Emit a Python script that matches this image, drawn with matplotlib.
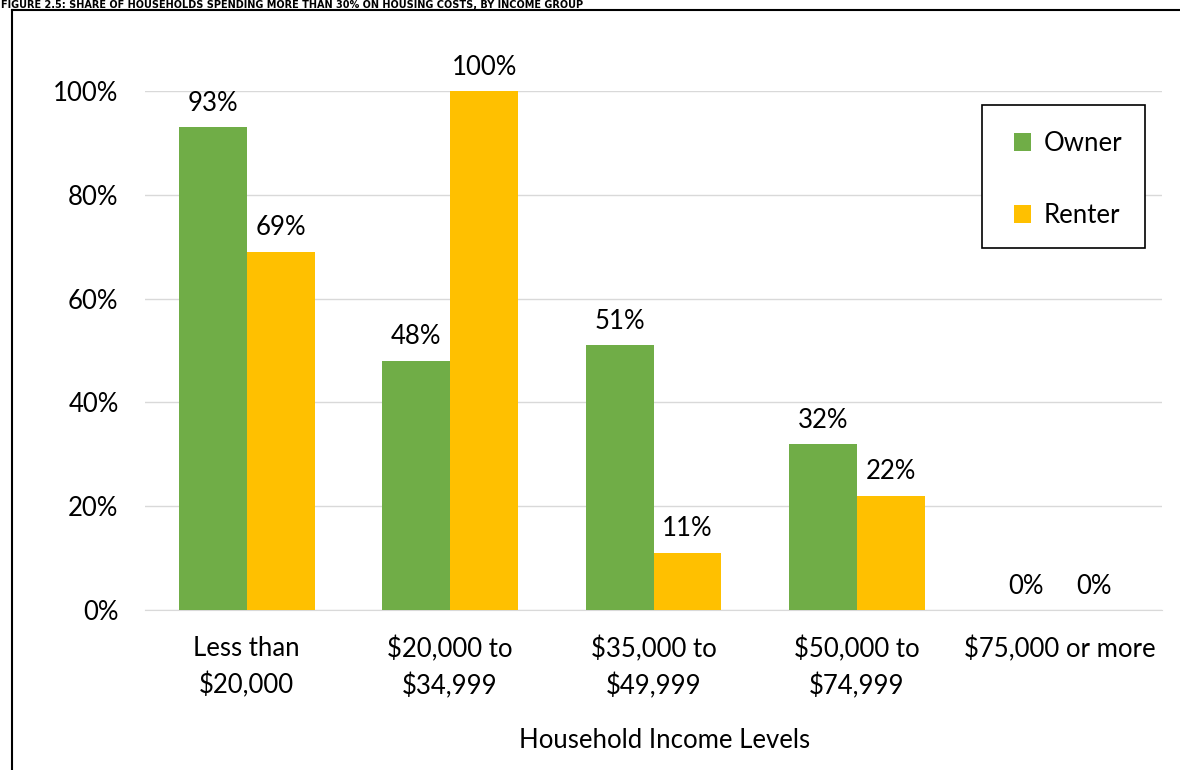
import matplotlib
matplotlib.use("Agg")
import matplotlib.pyplot as plt
from matplotlib.lines import Line2D
from matplotlib.patches import Rectangle
import numpy as np

categories = ["Less than\n$20,000", "$20,000 to\n$34,999", "$35,000 to\n$49,999",
              "$50,000 to\n$74,999", "$75,000 or more"]
owner = [0.93, 0.48, 0.51, 0.32, 0.0]
renter = [0.69, 1.00, 0.11, 0.22, 0.0]
series_names = ["Owner", "Renter"]
colors = ["#70AD47", "#FFC000"]

plt.rcParams["font.family"] = ["Lato", "DejaVu Sans"]
FS = 18.5

W, H = 1180, 770
fig = plt.figure(figsize=(W / 100, H / 100), dpi=100)
ax = fig.add_axes([145 / W, 1 - 610 / H, (1162 - 145) / W, (610 - 91) / H])
AW, AH = 1162 - 145, 610 - 91

x = np.arange(len(categories))
bw = 0.334
for vals, off, col, name in [(owner, -bw / 2, colors[0], series_names[0]),
                             (renter, bw / 2, colors[1], series_names[1])]:
    bars = ax.bar(x + off, vals, bw, color=col, label=name, zorder=3)
    for b, v in zip(bars, vals):
        ax.text(b.get_x() + b.get_width() / 2, v + 0.022, f"{v:.0%}",
                ha="center", va="bottom", fontsize=FS, clip_on=False)

ax.set_xlim(-0.5, len(categories) - 0.5)
ax.set_ylim(0, 1.0)
yt = np.arange(0, 1.01, 0.2)
ax.set_yticks(yt)
ax.set_yticklabels([f"{t:.0%}" for t in yt], fontsize=FS)
ax.set_xticks(x)
ax.set_xticklabels(categories, fontsize=FS, linespacing=1.5)
ax.tick_params(axis="both", length=0)
ax.tick_params(axis="y", pad=19)
ax.tick_params(axis="x", pad=19)
ax.grid(axis="y", color="#D9D9D9", linewidth=1, zorder=0)
for s in ["top", "right", "left"]:
    ax.spines[s].set_visible(False)
ax.spines["bottom"].set_color("#D9D9D9")
ax.set_xlabel("Household Income Levels", fontsize=FS)
ax.xaxis.set_label_coords((665 - 145) / AW, (610 - 728) / AH)

# legend: box drawn separately so its padding can match the original
ax.add_patch(Rectangle(((982 - 145) / AW, (610 - 248) / AH), (1145 - 982) / AW, (248 - 105) / AH,
                       transform=ax.transAxes, facecolor="white", edgecolor="black",
                       linewidth=1.2, zorder=5, clip_on=False))
leg = ax.legend(loc="upper left", bbox_to_anchor=((1014 - 145) / AW, 1 - (131 - 91) / AH),
                fontsize=FS, frameon=False, handlelength=0.65, handleheight=0.65,
                handletextpad=0.5, labelspacing=1.83, borderpad=0, borderaxespad=0)
leg.set_zorder(6)

# outer frame and caption strip at the very top
fig.add_artist(Line2D([12 / W, 12 / W], [0, 1 - 10 / H], color="black", lw=1.5))
fig.add_artist(Line2D([12 / W, 1], [1 - 10 / H, 1 - 10 / H], color="black", lw=1.5))
fig.text(1 / W, 1 - 0.5 / H,
         "FIGURE 2.5: SHARE OF HOUSEHOLDS SPENDING MORE THAN 30% ON HOUSING COSTS, BY INCOME GROUP",
         fontsize=7, fontweight="bold", ha="left", va="top", family="DejaVu Sans")

fig.savefig("out.png", dpi=100)
